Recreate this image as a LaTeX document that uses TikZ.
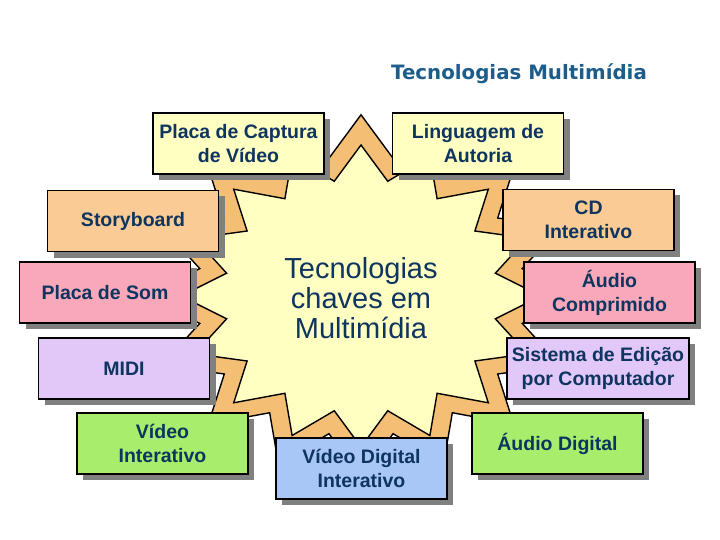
\documentclass[tikz,border=0pt]{standalone}
\usepackage{fontspec}
\setmainfont{Liberation Sans}
\newfontfamily\titlefont{DejaVu Sans}
\usetikzlibrary{shadows}
\definecolor{navy}{HTML}{0E3460}
\definecolor{titleblue}{HTML}{1D5D8B}
\definecolor{faceyellow}{HTML}{FFFFC2}
\definecolor{extorange}{HTML}{F4BE74}
\definecolor{peach}{HTML}{FACB94}
\definecolor{pinkbox}{HTML}{F8A8B8}
\definecolor{lavender}{HTML}{E2C8F8}
\definecolor{greenbox}{HTML}{A8EE6C}
\definecolor{bluebox}{HTML}{A8C6F6}
\definecolor{shadowgray}{HTML}{808080}
\begin{document}
\begin{tikzpicture}[x=1pt,y=-1pt,
  box/.style={draw=black, line width=1.6pt, rectangle, inner sep=0pt,
    minimum width=171pt, minimum height=61pt, align=center, text=navy,
    font=\bfseries\fontsize{19.5}{24}\selectfont,
    drop shadow={shadow xshift=6pt, shadow yshift=-6pt, opacity=1, fill=shadowgray}},
  staredge/.style={draw=black, line width=1.4pt, line join=miter}]
\useasboundingbox (0,0) rectangle (720,540);
% extrusion (back) star
\draw[staredge, fill=extorange] plot[samples at={0,...,31}, variable=\k]
  ({361+1.2*(mod(\k,2)==0?180:137)*cos(90+\k*11.25)},{296-1.2*(mod(\k,2)==0?151:117)*sin(90+\k*11.25)}) -- cycle;
% face star
\draw[staredge, fill=faceyellow] plot[samples at={0,...,31}, variable=\k]
  ({361+(mod(\k,2)==0?180:137)*cos(90+\k*11.25)},{296-(mod(\k,2)==0?151:117)*sin(90+\k*11.25)}) -- cycle;
% title
\node[font=\titlefont\bfseries\fontsize{19.8}{22}\selectfont, text=titleblue] (title) at (519,74) {Tecnologias Multimídia};
% centre text
\node[font=\fontsize{29}{30}\selectfont, text=navy, align=center] (centre) at (361,298) {Tecnologias\\chaves em\\Multimídia};
% boxes
\node[box, fill=faceyellow] (pcv) at (238.5,143.5) {Placa de Captura\\de Vídeo};
\node[box, fill=faceyellow] (ling) at (478,143.5) {Linguagem de\\Autoria};
\node[box, fill=peach] (cd) at (588.5,220) {CD\\Interativo};
\node[box, fill=peach] (story) at (133,221) {Storyboard};
\node[box, fill=pinkbox] (psom) at (105,292.5) {Placa de Som};
\node[box, fill=pinkbox] (acomp) at (609.5,292.5) {Áudio\\Comprimido};
\node[box, fill=lavender] (midi) at (124,368.5) {MIDI};
\node[box, fill=lavender, minimum width=182pt] (sist) at (598,368.5) {Sistema de Edição\\por Computador};
\node[box, fill=greenbox] (vint) at (162.5,443.5) {Vídeo\\Interativo};
\node[box, fill=greenbox] (adig) at (557.5,443.5) {Áudio Digital};
\node[box, fill=bluebox] (vdig) at (361.5,468.5) {Vídeo Digital\\Interativo};
\end{tikzpicture}
\end{document}
